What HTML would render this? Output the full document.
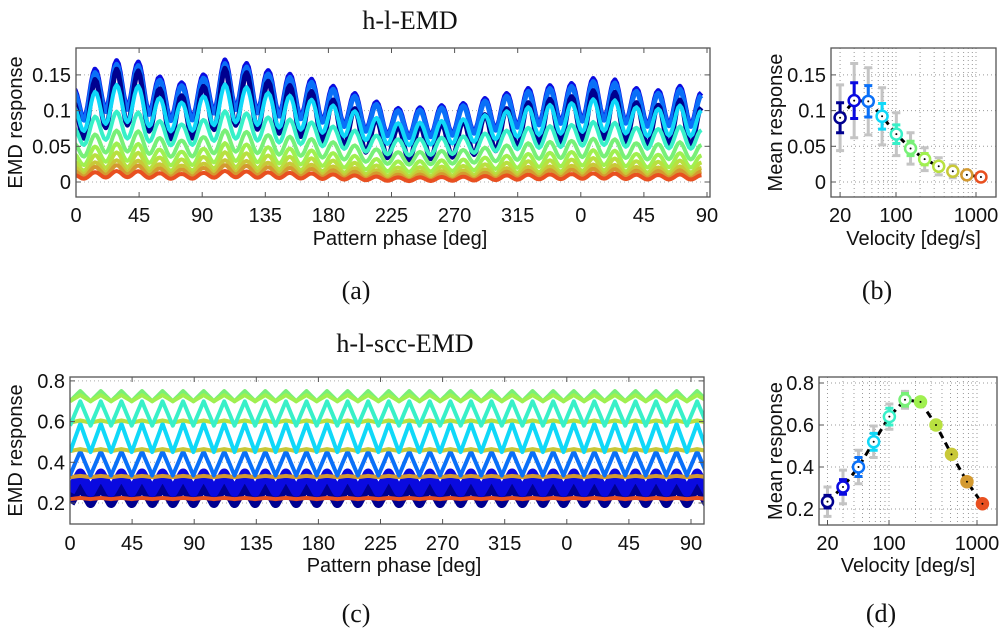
<!DOCTYPE html>
<html><head><meta charset="utf-8"><style>
body{margin:0;background:#fff;}
svg{display:block;font-family:"Liberation Sans",sans-serif;}
.tk{font-size:20px;fill:#111;}
.ttl{font-family:"Liberation Serif",serif;font-size:26px;fill:#111;}
</style></head><body>
<svg id="fig" width="1000" height="634" viewBox="0 0 1000 634">
<text class="ttl" x="410" y="29" text-anchor="middle">h-l-EMD</text>
<text class="ttl" x="405" y="352" text-anchor="middle">h-l-scc-EMD</text>
<text class="ttl" x="356" y="299" text-anchor="middle">(a)</text>
<text class="ttl" x="877" y="299" text-anchor="middle">(b)</text>
<text class="ttl" x="356" y="622" text-anchor="middle">(c)</text>
<text class="ttl" x="881" y="622" text-anchor="middle">(d)</text>
</svg>
<script>
// ---------- data ----------
const colors=['#00008f','#0a0ae0','#0a70f8','#10d8f8','#38f0c8','#78f078','#a0f050','#b8e040','#c8c838','#d49a30','#e85020'];
const velocities=[20,30,45,67,101,152,228,342,513,769,1153];
const meanB=[0.090,0.114,0.113,0.092,0.067,0.047,0.032,0.022,0.015,0.010,0.007];
const errColB=[0.021,0.025,0.022,0.018,0.013,0.010,0.008,0.006,0.004,0.003,0.002];
const errGrayB=[0.046,0.052,0.047,0.040,0.030,0.022,0.016,0.012,0.009,0.006,0.004];
const meanD=[0.235,0.305,0.400,0.520,0.640,0.720,0.710,0.600,0.460,0.330,0.225];
const errColD=[0.030,0.035,0.045,0.040,0.040,0.030,0.012,0.008,0.006,0.005,0.004];
const errGrayD=[0.070,0.080,0.080,0.075,0.060,0.040,0.020,0.012,0.010,0.008,0.006];
// (a) peak values of top (30 deg/s) trace, peaks ~15.45 deg apart
const peaksA=[0.130,0.158,0.170,0.168,0.147,0.139,0.150,0.171,0.166,0.156,0.151,0.144,0.134,0.124,0.112,0.103,0.104,0.107,0.110,0.117,0.124,0.131,0.135,0.138,0.145,0.143,0.131,0.128,0.134,0.125];
const ratioA=[0.80,1.0,0.97,0.80,0.58,0.41,0.29,0.21,0.15,0.11,0.07];
const depthA=[1.5,1.0,1.0,1.0,1.0,1.1,1.3,1.5,1.6,1.8,1.9];
// (c) per-series mean level & half amplitude
const levelC=[0.245,0.300,0.395,0.520,0.640,0.725,0.715,0.600,0.460,0.330,0.222];
const ampC=[0.045,0.045,0.060,0.070,0.060,0.025,0.015,0.006,0.005,0.003,0.003];
const xTickLabels=['0','45','90','135','180','225','270','315','0','45','90'];
const yTicksA=[0,0.05,0.1,0.15];const yTickLabelsA=['0','0.05','0.1','0.15'];
const yTicksC=[0.2,0.4,0.6,0.8];const yTickLabelsC=['0.2','0.4','0.6','0.8'];
const logTicks=[20,100,1000];const logTickLabels=['20','100','1000'];
const logGrid=[20,30,40,50,60,70,80,90,100,200,300,400,500,600,700,800,900,1000];

// ---------- axes ----------
const xA=d=>76+d*63.1/45, yA=v=>182-v/0.05*35.7;
const xC=d=>70+d*62.1/45, yC=v=>503-(v-0.2)/0.2*40.7;
const xB=v=>896+(Math.log10(v)-2)*80, yB=yA;
const xD=v=>889+(Math.log10(v)-2)*88, yD=v=>509-(v-0.2)/0.2*42;

const svg=document.getElementById('fig');
const NS='http://www.w3.org/2000/svg';
function mk(tag,at,parent){const e=document.createElementNS(NS,tag);for(const k in at)e.setAttribute(k,at[k]);(parent||svg).appendChild(e);return e;}

function frame(name,x0,x1,y0,y1){
  const g=mk('g',{});
  
  
  const c=mk('clipPath',{id:'clip-'+name},g);mk('rect',{x:x0,y:y0,width:x1-x0,height:y1-y0},c);
  return g;
}
function box(g,x0,x1,y0,y1){const r=mk('rect',{x:x0,y:y0,width:x1-x0,height:y1-y0,fill:'none',stroke:'#555','stroke-width':1.3},g);
  }
function txt(g,s,x,y,anchor,rot,size,name){const t=mk('text',{x:x,y:y,'text-anchor':anchor||'middle',class:'tk'},g);if(size)t.style.fontSize=size+'px';if(rot)t.setAttribute('transform','rotate(-90 '+x+' '+y+')');t.textContent=s;
  return t;}

// ---------- time-series panels ----------
function panelTS(name,xf,yf,x0,x1,y0,y1,yT,yTL,xlY,tickY,buildSeries){
  const g=frame(name,x0,x1,y0,y1);
  yT.forEach(v=>{const l=mk('line',{x1:x0,x2:x1,y1:yf(v),y2:yf(v),stroke:'#aaa','stroke-dasharray':'1 3','stroke-width':1},g);});
  const sg=mk('g',{'clip-path':'url(#clip-'+name+')'},g);
  buildSeries(sg);
  box(g,x0,x1,y0,y1);
  xTickLabels.forEach((s,i)=>{const x=xf(i*45);
    mk('line',{x1:x,x2:x,y1:y1,y2:y1-5,stroke:'#555'},g);mk('line',{x1:x,x2:x,y1:y0,y2:y0+5,stroke:'#555'},g);
    txt(g,s,x,tickY,'middle',0,0,'x-tick-label');});
  yT.forEach((v,i)=>{const y=yf(v);mk('line',{x1:x0,x2:x0+5,y1:y,y2:y,stroke:'#555'},g);mk('line',{x1:x1,x2:x1-5,y1:y,y2:y,stroke:'#555'},g);
    txt(g,yTL[i],x0-5,y+7,'end',0,0,'y-tick-label');});
  txt(g,'EMD response',22,(y0+y1)/2,'middle',true,20,'y-axis-title');
  txt(g,'Pattern phase [deg]',(x0+x1)/2+7,xlY,'middle',0,20,'x-axis-title');
}

panelTS('panel-a',xA,yA,76,710,48,197,yTicksA,yTickLabelsA,245,222,sg=>{
  const P=15.45, p0=-1.95, sbar=0.115;
  const order=[1,2,0,3,4,5,6,7,8,9,10];
  order.forEach(i=>{
    let d='';
    for(let k=0;k<peaksA.length-1;k++){
      const pk=peaksA[k], pk2=peaksA[k+1];
      for(let j=0;j<=12;j++){
        const f=j/12, ph=p0+(k+f)*P;
        const env=pk+(pk2-pk)*f;
        const s=env*(1-0.38*(1-Math.cos(2*Math.PI*f))/2);
        const v=ratioA[i]*(sbar+depthA[i]*(s-sbar));
        d+=(d?'L':'M')+xA(ph).toFixed(1)+' '+yA(v).toFixed(1);
      }
    }
    const p=mk('path',{d:d,fill:'none',stroke:colors[i],'stroke-width':i<3?5:4,'stroke-linejoin':'round'},sg);
    
    
  });
});

panelTS('panel-c',xC,yC,70,704,377,524,yTicksC,yTickLabelsC,572,550,sg=>{
  const P=14.9;
  const order=[0,1,10,9,2,8,3,7,4,5,6];
  order.forEach(i=>{
    let d='';
    for(let k=0;k<=33*8;k++){
      const ph=k*P/8, f=(k%8)/8;
      const tri=f<0.5?(4*f-1):(3-4*f);
      const v=levelC[i]+ampC[i]*tri;
      d+=(d?'L':'M')+xC(ph).toFixed(1)+' '+yC(v).toFixed(1);
    }
    const p=mk('path',{d:d,fill:'none',stroke:colors[i],'stroke-width':i<2?10:4,'stroke-linejoin':'round'},sg);
    
    
  });
});

// ---------- velocity panels ----------
function panelV(name,xf,yf,x0,x1,y0,y1,yT,yTL,means,ec,eg,tickY,xlY,filledFrom){
  const g=frame(name,x0,x1,y0,y1);
  logGrid.forEach(v=>{const x=xf(v);if(x>x0&&x<x1){const l=mk('line',{x1:x,x2:x,y1:y0,y2:y1,stroke:'#999','stroke-dasharray':'1 3'},g);}});
  yT.forEach(v=>{const l=mk('line',{x1:x0,x2:x1,y1:yf(v),y2:yf(v),stroke:'#999','stroke-dasharray':'1 3'},g);});
  box(g,x0,x1,y0,y1);
  let d='';velocities.forEach((v,i)=>{d+=(i?'L':'M')+xf(v).toFixed(1)+' '+yf(means[i]).toFixed(1);});
  const ln=mk('path',{d:d,fill:'none',stroke:'#000','stroke-width':3,'stroke-dasharray':'7 5'},g);
  
  velocities.forEach((v,i)=>{const x=xf(v);
    [[eg[i],'#c4c4c4'],[ec[i],colors[i]]].forEach(([e,c])=>{
      const t=yf(means[i]+e),b=yf(means[i]-e);
      const eb=mk('path',{d:`M${x} ${t}V${b}M${x-4} ${t}H${x+4}M${x-4} ${b}H${x+4}`,stroke:c,'stroke-width':3,fill:'none'},g);
      });
    const m=mk('circle',{cx:x,cy:yf(means[i]),r:5.5,fill:i>=filledFrom?colors[i]:'#fff',stroke:colors[i],'stroke-width':2.5},g);
    
    mk('circle',{cx:x,cy:yf(means[i]),r:1,fill:'#000'},g);
  });
  logTicks.forEach((v,i)=>{const x=xf(v);mk('line',{x1:x,x2:x,y1:y1,y2:y1-5,stroke:'#555'},g);txt(g,logTickLabels[i],x,tickY,'middle',0,0,'x-tick-label');});
  yT.forEach((v,i)=>{const y=yf(v);mk('line',{x1:x0,x2:x0+5,y1:y,y2:y,stroke:'#555'},g);txt(g,yTL[i],x0-5,y+7,'end',0,0,'y-tick-label');});
  txt(g,'Mean response',782,(y0+y1)/2,'middle',true,20,'y-axis-title');
  txt(g,'Velocity [deg/s]',(x0+x1)/2,xlY,'middle',0,20,'x-axis-title');
}
panelV('panel-b',xB,yB,831,996,48,197,yTicksA,yTickLabelsA,meanB,errColB,errGrayB,222,245,99);
panelV('panel-d',xD,yD,819,997,377,525,yTicksC,yTickLabelsC,meanD,errColD,errGrayD,550,572,6);
</script>
</body></html>
